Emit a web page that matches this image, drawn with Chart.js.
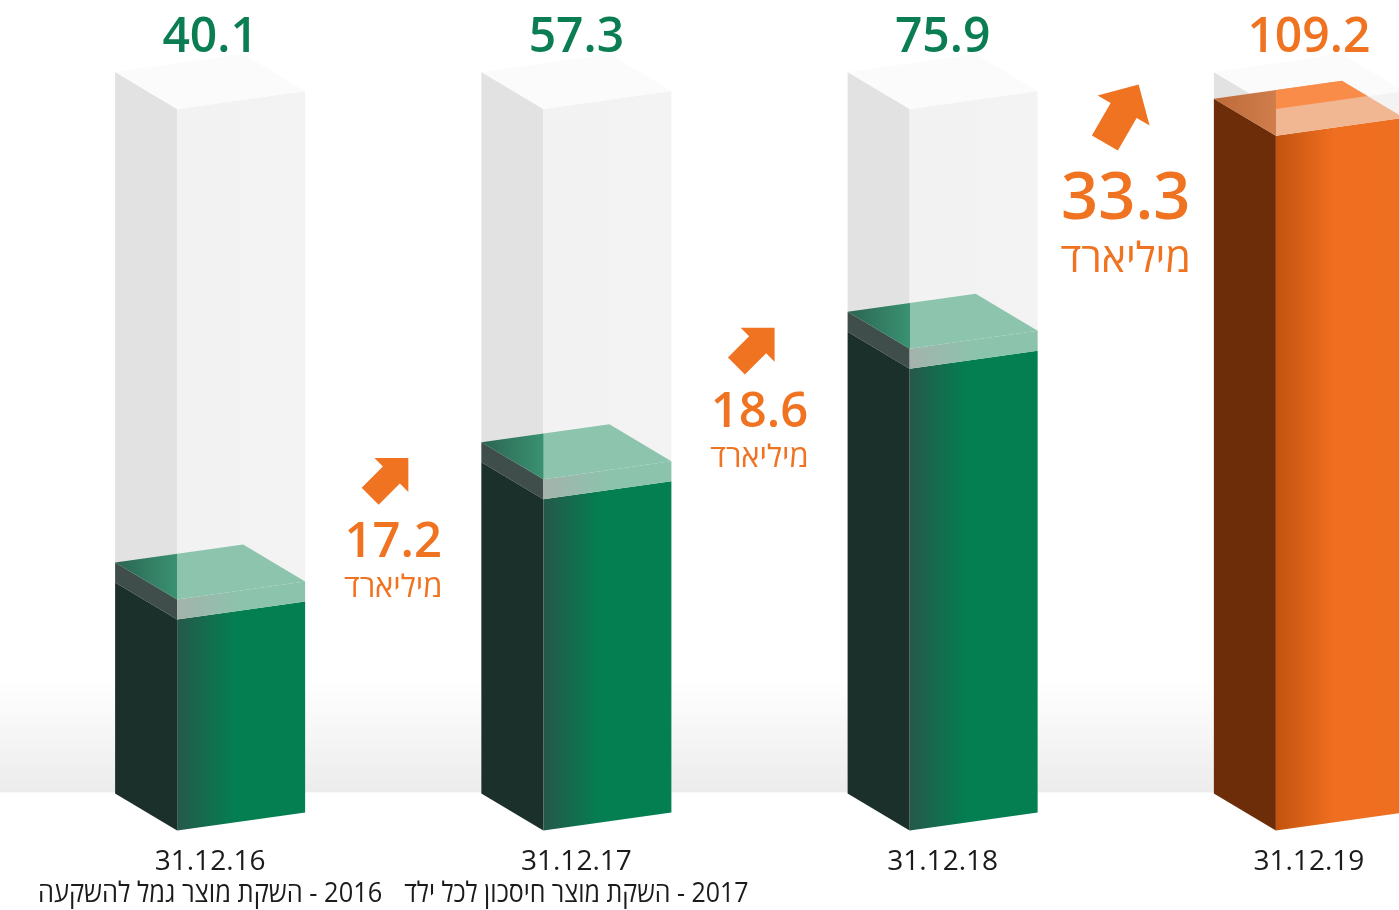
<!DOCTYPE html>
<html lang="he">
<head>
<meta charset="utf-8">
<title>נכסים מנוהלים</title>
<script src="https://cdn.jsdelivr.net/npm/chart.js@4.4.1/dist/chart.umd.min.js"></script>
<style>
    html, body { margin: 0; padding: 0; background: #fff; overflow: hidden; }
    #wrap { width: 1500px; height: 910px; }
    canvas { direction: rtl; }
</style>
</head>
<body>
<div id="wrap"><canvas id="assetsChart" width="1500" height="910"></canvas></div>
<script>
// נתונים
const dates = ['31.12.16', '31.12.17', '31.12.18', '31.12.19'];
const milestones = ['2016 - השקת מוצר גמל להשקעה', '2017 - השקת מוצר חיסכון לכל ילד', '', ''];
const assets = [40.1, 57.3, 75.9, 109.2];
const growth = [17.2, 18.6, 33.3];
const trackValues = [113, 113, 113, 113];
const unitLabel = 'מיליארד';

// עיצוב
const fontFamily = '"Open Sans", "Liberation Sans", "DejaVu Sans", sans-serif';
const greenText = '#0b7d52';
const orangeText = '#f07322';
const growthScale = [1, 1, 1.32];
const arrowScale = [1, 1, 1.25];
const arrowAngle = [45, 45, 60];

// גאומטריה של הקופסה
const FRONT_W = 128;
const DEPTH_X = 62;
const DEPTH_Y = 37;
const SLOPE = 18;

const ghostColors = { side: '#e2e2e2', front: [[0, '#f2f2f2'], [1, '#f3f3f3']], top: '#fbfbfb' };
const greenColors = {
    side: '#1b2f2b',
    front: [[0, '#26584a'], [0.45, '#037f52'], [1, '#037f52']],
    lid: 20,
    lidSide: '#3f4e4a',
    lidFront: [[0, '#a4b3ac'], [0.5, '#8cc3ad'], [1, '#8cc3ad']],
    topDark: ['#2b6452', '#3a9272'],
    top: '#8cc4ae'
};
const orangeColors = {
    side: '#6d2d08',
    front: [[0, '#c2530f'], [0.45, '#ef6e20'], [1, '#ef6f21']],
    lid: 0,
    topDark: ['#bd6a37', '#cf7e4c'],
    top: '#f1b793',
    topBright: '#fa8c4a'
};

function poly(ctx, pts, fill) {
    ctx.beginPath();
    ctx.moveTo(pts[0][0], pts[0][1]);
    for (let i = 1; i < pts.length; i++) ctx.lineTo(pts[i][0], pts[i][1]);
    ctx.closePath();
    ctx.fillStyle = fill;
    ctx.fill();
}

function hGradient(ctx, x0, x1, stops) {
    const g = ctx.createLinearGradient(x0, 0, x1, 0);
    stops.forEach(s => g.addColorStop(s[0], s[1]));
    return g;
}

function topFacePts(fx, y) {
    return [[fx, y], [fx - DEPTH_X, y - DEPTH_Y], [fx - DEPTH_X + FRONT_W, y - DEPTH_Y - SLOPE], [fx + FRONT_W, y - SLOPE]];
}

// קופסה: פאה שמאלית + פאה קדמית
function drawBox(ctx, fx, top, base, c) {
    poly(ctx, [[fx - DEPTH_X, top - DEPTH_Y], [fx, top], [fx, base], [fx - DEPTH_X, base - DEPTH_Y]], c.side);
    poly(ctx, [[fx, top], [fx + FRONT_W, top - SLOPE], [fx + FRONT_W, base - SLOPE], [fx, base]],
        hGradient(ctx, fx, fx + FRONT_W, c.front));
}

// מכסה (נראה דרך הזכוכית)
function drawLid(ctx, fx, fy, glassTop, c) {
    const t = c.lid;
    if (t > 0) {
        poly(ctx, [[fx - DEPTH_X, fy - DEPTH_Y], [fx, fy], [fx, fy - t], [fx - DEPTH_X, fy - DEPTH_Y - t]], c.lidSide);
        poly(ctx, [[fx, fy], [fx + FRONT_W, fy - SLOPE], [fx + FRONT_W, fy - SLOPE - t], [fx, fy - t]],
            hGradient(ctx, fx, fx + FRONT_W, c.lidFront));
    }
    const x0 = fx - DEPTH_X, x1 = fx + FRONT_W;
    const k = DEPTH_X / (x1 - x0);
    const topFill = hGradient(ctx, x0, x1, [[0, c.topDark[0]], [k, c.topDark[1]], [k + 0.001, c.top], [1, c.top]]);
    const pts = topFacePts(fx, fy - t);
    poly(ctx, pts, topFill);
    if (c.topBright) {
        // החלק שמעל לקצה הקדמי של הזכוכית
        ctx.save();
        ctx.beginPath();
        pts.forEach((p, i) => i ? ctx.lineTo(p[0], p[1]) : ctx.moveTo(p[0], p[1]));
        ctx.closePath();
        ctx.clip();
        poly(ctx, [[fx, glassTop], [fx + FRONT_W, glassTop - SLOPE], [fx + FRONT_W, 0], [fx, 0]], c.topBright);
        ctx.restore();
    }
}

function drawArrow(ctx, cx, cy, scale, angleDeg, color) {
    ctx.save();
    ctx.translate(cx, cy);
    ctx.rotate(-angleDeg * Math.PI / 180);
    ctx.scale(scale, scale);
    poly(ctx, [[-27, -12], [3, -12], [3, -24], [27, 0], [3, 24], [3, 12], [-27, 12]], color);
    ctx.restore();
}

const boxesPlugin = {
    id: 'boxes',
    beforeDatasetsDraw(chart) {
        const { ctx, chartArea, scales: { x, y } } = chart;
        ctx.save();
        // רצפה
        const floorY = chartArea.bottom - 38;
        const fg = ctx.createLinearGradient(0, floorY - 110, 0, floorY);
        fg.addColorStop(0, 'rgba(236,236,236,0)');
        fg.addColorStop(1, 'rgba(236,236,236,1)');
        ctx.fillStyle = fg;
        ctx.fillRect(0, floorY - 110, chart.width, 110);

        const base = y.getPixelForValue(y.min);
        trackValues.forEach((v, i) => {
            const fx = x.getPixelForValue(i) - 33;
            const top = y.getPixelForValue(v);
            drawBox(ctx, fx, top, base, ghostColors);
            poly(ctx, topFacePts(fx, top), ghostColors.top);
        });
        assets.forEach((v, i) => {
            const fx = x.getPixelForValue(i) - 33;
            const top = y.getPixelForValue(v);
            const c = i === assets.length - 1 ? orangeColors : greenColors;
            drawBox(ctx, fx, top, base, c);
            drawLid(ctx, fx, top, y.getPixelForValue(trackValues[i]), c);
        });
        ctx.restore();
    },
    afterDraw(chart) {
        const { ctx, chartArea, scales: { x, y } } = chart;
        ctx.save();
        ctx.direction = 'rtl';
        ctx.textAlign = 'center';
        ctx.textBaseline = 'alphabetic';

        // ערכים בראש כל עמודה
        assets.forEach((v, i) => {
            ctx.fillStyle = i === assets.length - 1 ? orangeText : greenText;
            ctx.font = `600 48px ${fontFamily}`;
            ctx.fillText(v.toFixed(1), x.getPixelForValue(i), chartArea.top + 27);
        });

        // גידול בין השנים
        growth.forEach((g, i) => {
            const s = growthScale[i];
            const cx = (x.getPixelForValue(i) + x.getPixelForValue(i + 1)) / 2;
            const anchor = y.getPixelForValue(assets[i + 1]) - 22;
            drawArrow(ctx, cx - 4, anchor, arrowScale[i], arrowAngle[i], orangeText);
            ctx.fillStyle = orangeText;
            ctx.font = `600 ${Math.round(49 * s)}px ${fontFamily}`;
            ctx.fillText(g.toFixed(1), cx, anchor + 80 * s);
            ctx.font = `${Math.round(31 * s)}px ${fontFamily}`;
            ctx.fillText(unitLabel, cx, anchor + 120 * s);
        });

        // אבני דרך מתחת לתאריכים
        ctx.textBaseline = 'middle';
        ctx.fillStyle = '#1b1b1b';
        ctx.font = `28px ${fontFamily}`;
        const step = x.getPixelForValue(1) - x.getPixelForValue(0);
        milestones.forEach((m, i) => {
            if (!m) return;
            ctx.fillText(m, x.getPixelForValue(i), chartArea.bottom + 64, step - 22);
        });
        ctx.restore();
    }
};

new Chart(document.getElementById('assetsChart').getContext('2d'), {
    type: 'bar',
    data: {
        labels: dates,
        datasets: [{
            label: 'מסלול',
            data: trackValues,
            backgroundColor: 'transparent',
            grouped: false
        }, {
            label: 'נכסים (מיליארד)',
            data: assets,
            backgroundColor: 'transparent',
            grouped: false
        }]
    },
    options: {
        responsive: false,
        animation: false,
        layout: { padding: { top: 25, left: 27, right: 8, bottom: 16 } },
        plugins: { legend: { display: false }, tooltip: { enabled: false } },
        scales: {
            y: { display: false, min: 10, max: 125 },
            x: {
                grid: { display: false, drawTicks: false },
                border: { display: false },
                ticks: {
                    padding: 15,
                    color: '#1b1b1b',
                    maxRotation: 0,
                    autoSkip: false,
                    font: { family: fontFamily, size: 28, lineHeight: 1.2 }
                }
            }
        }
    },
    plugins: [boxesPlugin]
});
</script>
</body>
</html>
